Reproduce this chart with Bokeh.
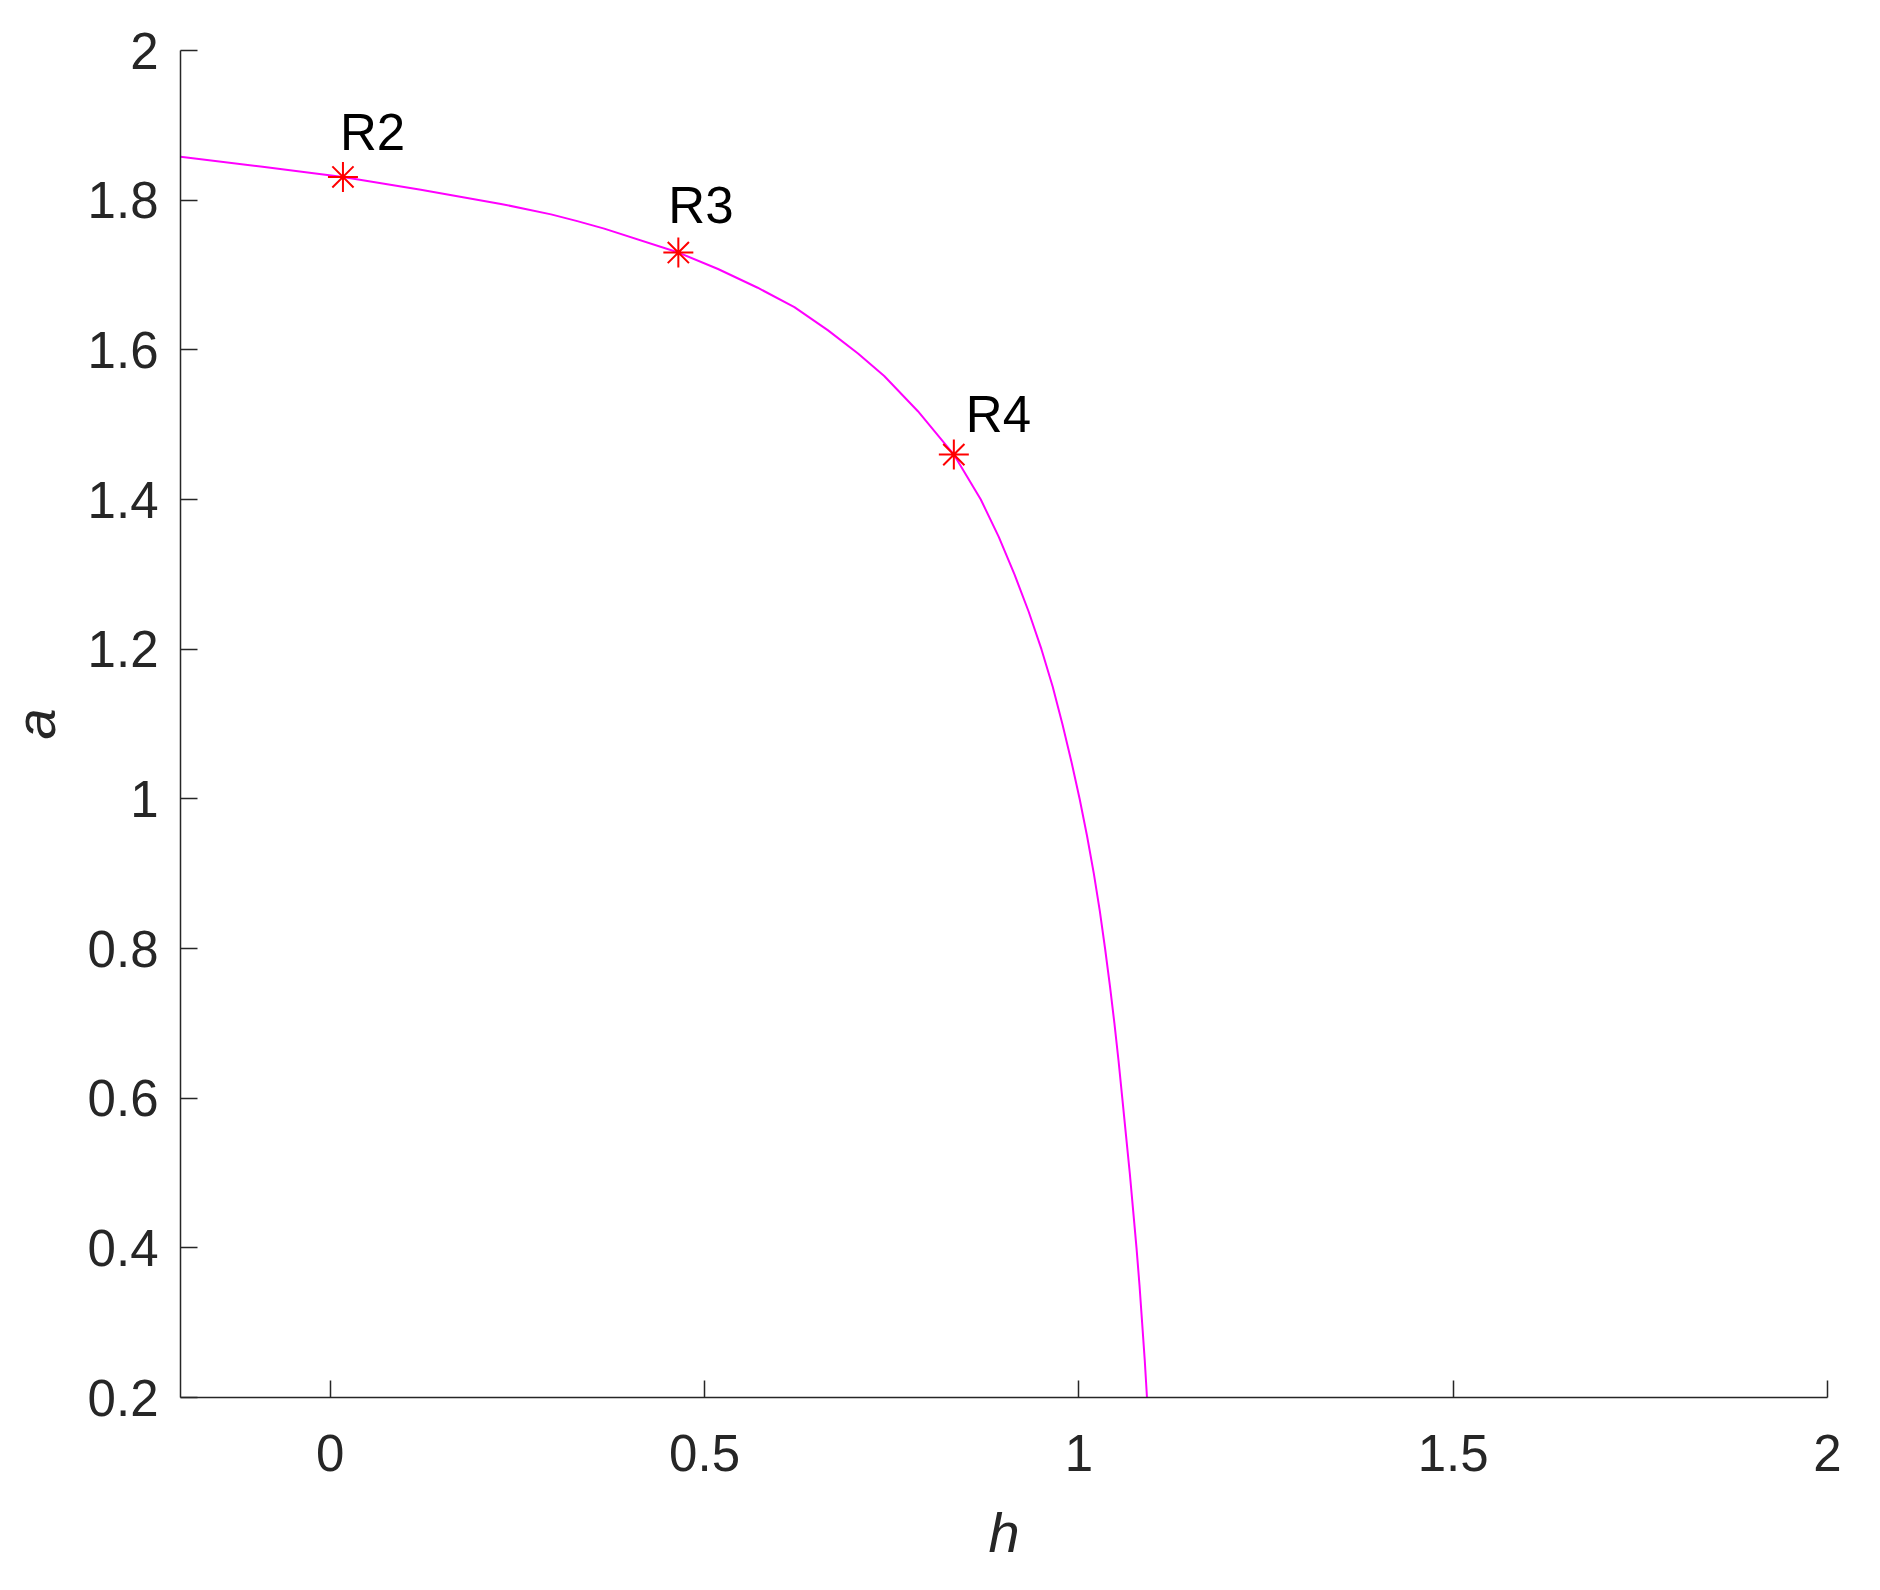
from bokeh.plotting import figure
from bokeh.models import Range1d, FixedTicker, ColumnDataSource
from bokeh.embed import file_html
from bokeh.resources import INLINE
from bokeh.core.properties import value

# ---- data ----
curve_h = [-0.200, -0.093, 0.017, 0.121, 0.228, 0.295, 0.330, 0.366, 0.465, 0.518,
           0.571, 0.620, 0.665, 0.705, 0.740, 0.785, 0.833, 0.869, 0.893, 0.914,
           0.933, 0.950, 0.965, 0.978, 0.990, 1.001, 1.011, 1.020, 1.028, 1.035,
           1.0415, 1.0475, 1.053, 1.058, 1.063, 1.068, 1.0725, 1.077, 1.081, 1.0845,
           1.088, 1.091]
curve_a = [1.858, 1.845, 1.831, 1.814, 1.795, 1.781, 1.772, 1.762, 1.730, 1.708,
           1.683, 1.657, 1.626, 1.595, 1.565, 1.518, 1.460, 1.40, 1.35, 1.30,
           1.25, 1.20, 1.15, 1.10, 1.05, 1.00, 0.95, 0.90, 0.85, 0.80,
           0.75, 0.70, 0.65, 0.60, 0.55, 0.50, 0.45, 0.40, 0.35, 0.30,
           0.25, 0.20]

point_h = [0.017, 0.465, 0.833]
point_a = [1.831, 1.730, 1.460]
point_names = ["R2", "R3", "R4"]

x_ticks = [0, 0.5, 1, 1.5, 2]
x_tick_labels = ["0", "0.5", "1", "1.5", "2"]
y_ticks = [0.2, 0.4, 0.6, 0.8, 1.0, 1.2, 1.4, 1.6, 1.8, 2.0]
y_tick_labels = ["0.2", "0.4", "0.6", "0.8", "1", "1.2", "1.4", "1.6", "1.8", "2"]

x_label = "h"
y_label = "a"

# ---- styling (label offsets in screen pixels) ----
label_dx = [-3, -10, 12]
label_dy = [-44, -47, -40]

FONT = "Liberation Sans"
AXIS_COLOR = "#262626"

p = figure(
    x_range=Range1d(-0.2, 2.0), y_range=Range1d(0.2, 2.0),
    frame_width=1647, frame_height=1347,
    min_border_left=180, min_border_right=53, min_border_top=50, min_border_bottom=193,
    output_backend="svg", toolbar_location=None,
)
p.outline_line_color = None
p.xgrid.visible = False
p.ygrid.visible = False
p.background_fill_color = "white"
p.border_fill_color = "white"

p.line(curve_h, curve_a, line_color="#FF00FF", line_width=2, line_join="round")

src = ColumnDataSource(dict(h=point_h, a=point_a, name=point_names, dx=label_dx, dy=label_dy))
p.scatter("h", "a", source=src, marker="asterisk", size=30, line_color="#FF0000", line_width=2)
p.text("h", "a", text="name", source=src, x_offset="dx", y_offset="dy",
       text_font=value(FONT), text_font_size="51px", text_color="black",
       text_align="left", text_baseline="alphabetic")

for ax, ticks, labels in ((p.xaxis[0], x_ticks, x_tick_labels), (p.yaxis[0], y_ticks, y_tick_labels)):
    ax.ticker = FixedTicker(ticks=ticks)
    ax.major_label_overrides = {t: l for t, l in zip(ticks, labels)}
    ax.minor_tick_line_color = None
    ax.major_tick_in = 17
    ax.major_tick_out = 0
    ax.major_tick_line_color = AXIS_COLOR
    ax.major_tick_line_width = 1.5
    ax.axis_line_color = AXIS_COLOR
    ax.axis_line_width = 1.5
    ax.major_label_text_font = FONT
    ax.major_label_text_font_size = "51px"
    ax.major_label_text_color = AXIS_COLOR
    ax.axis_label_text_font = FONT
    ax.axis_label_text_font_size = "56px"
    ax.axis_label_text_font_style = "italic"
    ax.axis_label_text_color = AXIS_COLOR

p.xaxis[0].axis_label = x_label
p.yaxis[0].axis_label = y_label
p.xaxis[0].major_label_standoff = 37
p.yaxis[0].major_label_standoff = 22
p.xaxis[0].axis_label_standoff = 27
p.yaxis[0].axis_label_standoff = 18

open("out.html", "w").write(file_html(p, INLINE))
